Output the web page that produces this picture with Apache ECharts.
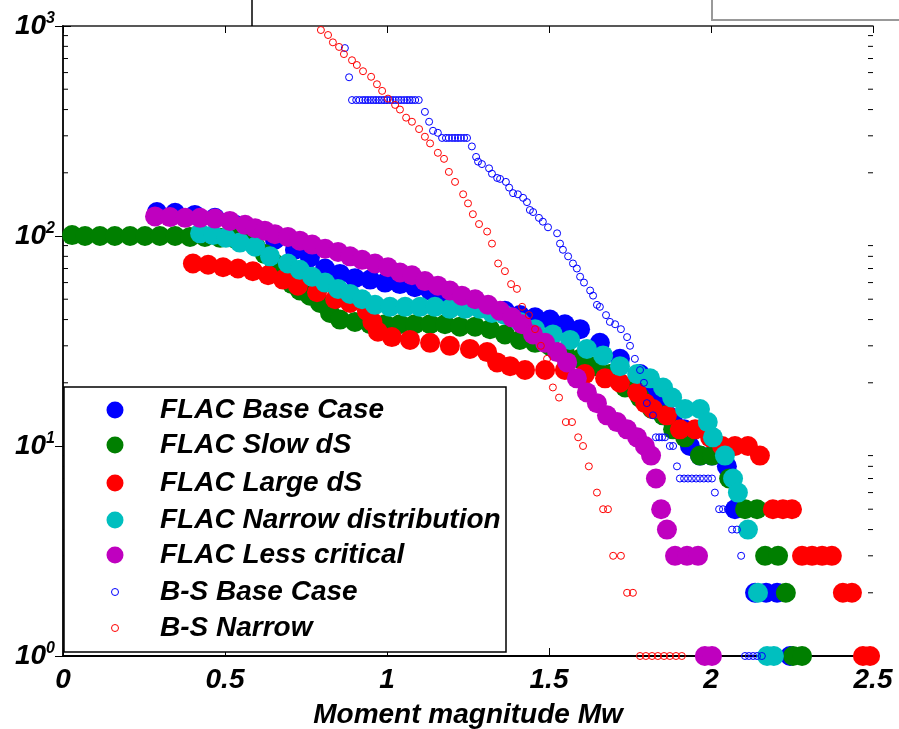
<!DOCTYPE html>
<html>
<head>
<meta charset="utf-8">
<script src="https://cdn.jsdelivr.net/npm/echarts@6/dist/echarts.min.js"></script>
<style>
html, body { margin: 0; background: #fff; }
#chart { width: 899px; height: 729px; }
</style>
</head>
<body>
<div id="chart"></div>
<script>
// cumulative number of events N(>=Mw)
var seriesNames = ['FLAC Base Case', 'FLAC Slow dS', 'FLAC Large dS', 'FLAC Narrow distribution',
                   'FLAC Less critical', 'B-S Base Case', 'B-S Narrow'];
var seriesColors = ['#0000ff', '#007f00', '#ff0000', '#00bfbf', '#bf00bf', '#0000ff', '#ff0000'];

var flacBase = [[0.290,130],[0.346,129],[0.407,126],[0.469,122],[0.531,113],[0.593,107],[0.654,96],[0.716,86],
  [0.762,79],[0.809,70],[0.855,66],[0.901,63],[0.948,62],[0.994,60],[1.040,59],[1.086,57],[1.133,55],[1.179,52],
  [1.225,50],[1.272,47],[1.318,45],[1.364,44],[1.410,42],[1.457,41],[1.503,40],[1.549,38],[1.596,36],[1.657,31],
  [1.719,26],[1.781,22],[1.805,20],[1.827,18],[1.847,16],[1.867,14],[1.883,13],[1.917,12],[1.935,10],[1.966,9],
  [2.003,9],[2.049,8],[2.074,5],[2.136,2],[2.170,2],[2.204,2],[2.244,1]];

var flacSlow = [[0.028,101],[0.068,100],[0.114,100],[0.160,100],[0.207,100],[0.253,100],[0.299,100],[0.346,100],
  [0.392,99],[0.438,99],[0.485,98],[0.531,97],[0.562,96],[0.593,90],[0.623,82],[0.654,74],[0.679,66],[0.707,59],
  [0.731,55],[0.762,52],[0.793,48],[0.824,43],[0.855,40],[0.901,39],[0.948,38],[0.994,38],[1.040,38],[1.086,38],
  [1.133,38],[1.179,38],[1.225,37],[1.272,37],[1.318,36],[1.364,34],[1.410,32],[1.457,31],[1.503,30],[1.549,28],
  [1.596,26],[1.642,24],[1.688,22],[1.735,19],[1.781,17],[1.818,15],[1.852,14],[1.883,12],[1.920,11],[1.966,9],
  [2.003,9],[2.056,7],[2.105,5],[2.142,5],[2.167,3],[2.207,3],[2.231,2],[2.253,1],[2.281,1]];

var flacLarge = [[0.401,74],[0.448,73],[0.494,71],[0.540,70],[0.586,68],[0.633,65],[0.679,62],[0.725,58],
  [0.784,54],[0.840,50],[0.886,48],[0.938,44],[0.955,39],[0.972,35],[1.015,33],[1.071,32],[1.133,31],[1.194,30],
  [1.256,29],[1.309,28],[1.340,25],[1.380,24],[1.426,23],[1.488,23],[1.549,23],[1.611,22],[1.673,21],[1.719,20],
  [1.772,18],[1.797,16],[1.821,15],[1.864,14],[1.904,12],[1.951,12],[1.997,11],[2.034,10],[2.074,10],[2.114,10],
  [2.151,9],[2.191,5],[2.222,5],[2.250,5],[2.281,3],[2.312,3],[2.343,3],[2.373,3],[2.407,2],[2.435,2],
  [2.469,1],[2.491,1]];

var flacNarrow = [[0.423,103],[0.463,101],[0.503,98],[0.546,93],[0.593,89],[0.639,80],[0.694,74],[0.731,69],
  [0.769,64],[0.809,60],[0.849,56],[0.886,53],[0.923,50],[0.963,47],[1.009,46],[1.056,46],[1.102,46],[1.148,46],
  [1.194,45],[1.241,45],[1.287,45],[1.324,43],[1.364,42],[1.410,39],[1.457,36],[1.512,34],[1.565,32],[1.617,29],
  [1.667,27],[1.719,24],[1.772,22],[1.812,21],[1.852,19],[1.880,17],[1.920,15],[1.966,15],[1.990,13],[2.006,11],
  [2.043,9],[2.068,7],[2.083,6],[2.114,4],[2.145,2],[2.173,1],[2.194,1]];

var flacLess = [[0.284,124],[0.330,123],[0.377,122],[0.423,122],[0.469,121],[0.515,118],[0.562,113],[0.593,109],
  [0.623,106],[0.654,102],[0.694,99],[0.731,95],[0.769,91],[0.809,87],[0.849,84],[0.886,80],[0.923,77],[0.963,74],
  [1.003,71],[1.040,67],[1.077,65],[1.117,61],[1.157,58],[1.194,55],[1.231,52],[1.272,50],[1.312,47],[1.349,44],
  [1.386,41],[1.417,38],[1.451,34],[1.488,31],[1.525,28],[1.556,25],[1.586,21],[1.617,18],[1.648,16],[1.679,14],
  [1.710,13],[1.741,12],[1.772,11],[1.796,10],[1.815,9],[1.830,7],[1.846,5],[1.864,4],[1.889,3],[1.926,3],
  [1.960,3],[1.981,1],[2.003,1]];

var bsBase = [[0.870,785],[0.883,570],
  [0.892,444],[0.905,444],[0.915,444],[0.925,444],[0.933,444],[0.941,444],[0.950,444],[0.958,444],[0.966,444],
  [0.975,444],[0.983,444],[0.991,444],[1.000,444],[1.010,444],[1.018,444],[1.027,444],[1.036,444],[1.044,444],
  [1.053,444],[1.062,444],[1.070,444],[1.078,444],[1.087,444],[1.098,444],
  [1.117,390],[1.130,350],[1.142,317],[1.157,310],
  [1.170,293],[1.182,293],[1.191,293],[1.201,293],[1.210,293],[1.219,293],[1.228,293],[1.238,293],[1.247,293],
  [1.262,267],[1.275,238],[1.281,226],[1.293,220],[1.315,210],[1.324,198],[1.340,189],[1.349,187],[1.367,181],
  [1.377,170],[1.389,160],[1.404,158],[1.420,152],[1.432,145],[1.441,133],[1.451,130],[1.469,122],[1.481,117],
  [1.497,110],[1.525,103],[1.534,92],[1.543,86],[1.559,80],[1.574,74],[1.586,70],[1.596,64],[1.608,60],
  [1.627,55],[1.636,52],[1.648,47],[1.657,46],[1.676,42],[1.688,39],[1.704,38],[1.722,36],[1.741,33],[1.750,30],
  [1.765,26],[1.781,23],[1.793,20],[1.802,16],[1.821,14],
  [1.830,11],[1.840,11],[1.849,11],[1.858,11],[1.873,10],[1.883,10],[1.895,8],
  [1.904,7],[1.917,7],[1.929,7],[1.941,7],[1.954,7],[1.966,7],[1.978,7],[1.991,7],[2.003,7],
  [2.012,6],[2.025,5],[2.037,5],[2.052,5],[2.065,4],[2.080,4],[2.093,3],
  [2.105,1],[2.117,1],[2.130,1],[2.142,1],[2.157,1]];

var bsNarrow = [[0.796,957],[0.818,906],[0.833,836],[0.852,795],[0.867,735],[0.892,687],[0.907,652],[0.926,609],
  [0.951,573],[0.969,528],[0.985,491],[1.003,451],[1.025,421],[1.040,400],[1.059,366],[1.077,350],[1.099,323],
  [1.117,297],[1.133,276],[1.157,249],[1.176,233],[1.191,202],[1.210,181],[1.235,158],[1.250,143],[1.265,127],
  [1.284,114],[1.309,105],[1.324,92],[1.343,74],[1.364,68],[1.383,59],[1.401,56],[1.417,46],[1.438,42],
  [1.457,36],[1.475,30],[1.494,26],[1.512,19],[1.531,17],[1.552,13],[1.571,13],[1.590,11],[1.605,10],
  [1.623,8],[1.648,6],[1.667,5],[1.682,5],[1.698,3],[1.722,3],[1.741,2],[1.759,2],
  [1.781,1],[1.799,1],[1.818,1],[1.836,1],[1.855,1],[1.873,1],[1.892,1],[1.910,1]];

var minorTickValues = [2,3,4,5,6,7,8,9,20,30,40,50,60,70,80,90,200,300,400,500,600,700,800,900];

var seriesData = [flacBase, flacSlow, flacLarge, flacNarrow, flacLess, bsBase, bsNarrow];

var FONT = '"Liberation Sans", Arial, sans-serif';
var chart = echarts.init(document.getElementById('chart'));

var series = seriesData.map(function (d, i) {
  var open = i >= 5;
  return {
    name: seriesNames[i],
    type: 'scatter',
    data: d,
    symbol: 'circle',
    symbolSize: open ? 7 : 20,
    clip: false,
    itemStyle: open
      ? { color: 'rgba(0,0,0,0)', borderColor: seriesColors[i], borderWidth: 1, opacity: 1 }
      : { color: seriesColors[i], opacity: 1 },
    emphasis: { disabled: true }
  };
});

// minor ticks on the log axis (2..9 per decade), inside both vertical borders
series.push({
  type: 'custom',
  silent: true,
  clip: false,
  data: minorTickValues.map(function (v) { return [0, v]; }),
  renderItem: function (params, api) {
    var v = api.value(1);
    var l = api.coord([0, v]);
    var r = api.coord([2.5, v]);
    return {
      type: 'group',
      children: [
        { type: 'line', shape: { x1: l[0], y1: l[1], x2: l[0] + 5, y2: l[1] }, style: { stroke: '#000', lineWidth: 1 } },
        { type: 'line', shape: { x1: r[0], y1: r[1], x2: r[0] - 5, y2: r[1] }, style: { stroke: '#000', lineWidth: 1 } }
      ]
    };
  }
});

var legendRows = [410, 445, 483, 520, 555, 592, 628];
var legendItems = [{
  type: 'rect', z: 100,
  shape: { x: 64, y: 387, width: 442, height: 265 },
  style: { fill: '#fff', stroke: '#000', lineWidth: 1.5 }
}];
seriesNames.forEach(function (n, i) {
  var open = i >= 5;
  legendItems.push({
    type: 'circle', z: 101,
    shape: { cx: 115, cy: legendRows[i], r: open ? 3.5 : 8.5 },
    style: open ? { fill: 'none', stroke: seriesColors[i], lineWidth: 1 } : { fill: seriesColors[i] }
  });
  legendItems.push({
    type: 'text', z: 101,
    style: { x: 160, y: legendRows[i], text: n, fill: '#000', verticalAlign: 'middle',
             font: 'italic bold 28px ' + FONT }
  });
});
// fragments of neighbouring figure cut into the top of the image
legendItems.push({ type: 'line', z: 100, shape: { x1: 252, y1: 0, x2: 252, y2: 26 }, style: { stroke: '#000', lineWidth: 1.5 } });
legendItems.push({ type: 'polyline', z: 100, shape: { points: [[712, 0], [712, 20], [899, 20]] }, style: { stroke: '#999', lineWidth: 2, fill: 'none' } });

var tickFont = { color: '#000', fontFamily: FONT, fontWeight: 'bold', fontStyle: 'italic' };

var option = {
  backgroundColor: '#fff',
  animation: false,
  grid: { left: 63, right: 26, top: 26, bottom: 73, show: false, containLabel: false, outerBoundsMode: 'none' },
  xAxis: [{
    type: 'value', min: 0, max: 2.5, interval: 0.5, position: 'bottom',
    name: 'Moment magnitude Mw', nameLocation: 'middle', nameGap: 45,
    nameTextStyle: Object.assign({ fontSize: 28 }, tickFont),
    axisLine: { lineStyle: { color: '#000', width: 2 } },
    axisTick: { inside: true, length: 8, lineStyle: { color: '#000', width: 1 } },
    axisLabel: Object.assign({ fontSize: 28, margin: 10, formatter: function (v) { return String(v); } }, tickFont),
    splitLine: { show: false }
  }, {
    type: 'value', min: 0, max: 2.5, interval: 0.5, position: 'top',
    axisLine: { lineStyle: { color: '#222', width: 1.5 } },
    axisTick: { inside: true, length: 7, lineStyle: { color: '#000', width: 1 } },
    axisLabel: { show: false },
    splitLine: { show: false }
  }],
  yAxis: [{
    type: 'log', logBase: 10, min: 1, max: 1000, position: 'left',
    axisLine: { lineStyle: { color: '#000', width: 2 } },
    axisTick: { inside: true, length: 8, lineStyle: { color: '#000', width: 1 } },
    axisLabel: {
      margin: 8,
      formatter: function (v) { return '{b|10}{s|' + Math.round(Math.log10(v)) + '}'; },
      rich: {
        b: Object.assign({ fontSize: 28, lineHeight: 30 }, tickFont),
        s: Object.assign({ fontSize: 16, lineHeight: 30, verticalAlign: 'top' }, tickFont)
      }
    },
    splitLine: { show: false }
  }, {
    type: 'log', logBase: 10, min: 1, max: 1000, position: 'right',
    axisLine: { lineStyle: { color: '#222', width: 1.5 } },
    axisTick: { inside: true, length: 8, lineStyle: { color: '#000', width: 1 } },
    axisLabel: { show: false },
    splitLine: { show: false }
  }],
  graphic: legendItems,
  series: series
};

chart.setOption(option);
</script>
</body>
</html>
